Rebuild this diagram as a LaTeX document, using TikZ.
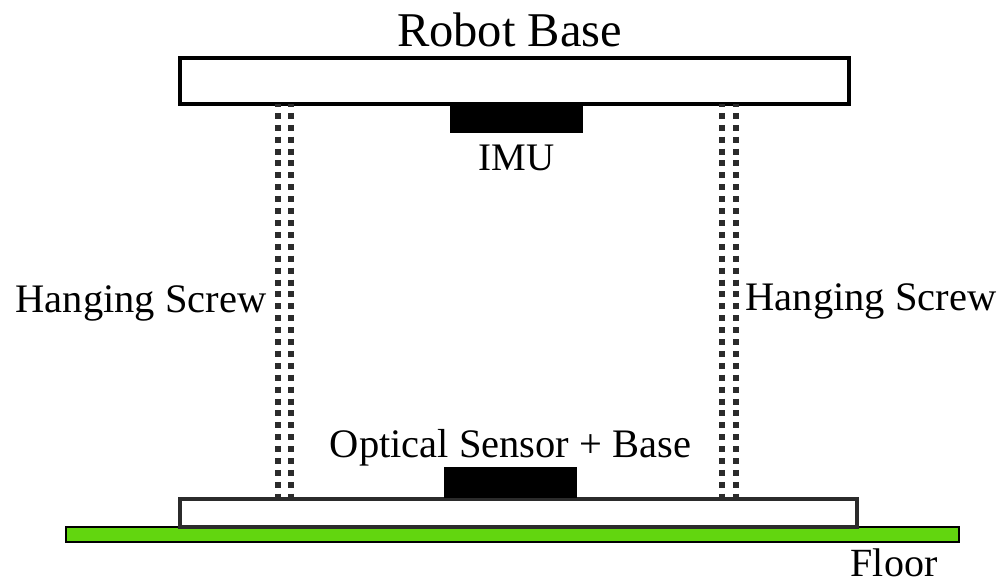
\documentclass[tikz,border=0pt]{standalone}
\usepackage{fontspec}
\setmainfont{Liberation Serif}
\definecolor{floorgreen}{HTML}{62D60F}
\definecolor{platedark}{HTML}{2B2B2B}
\tikzset{
  plate/.style={draw=#1,fill=white,line width=3.5pt,inner sep=0pt,outer sep=0pt},
  solidblock/.style={draw=none,fill=black,inner sep=0pt,outer sep=0pt},
  floorbar/.style={draw=black,fill=floorgreen,line width=2pt,inner sep=0pt,outer sep=0pt},
  screw/.style={draw=platedark,line width=6pt,dash pattern=on 6pt off 5.9pt,dash phase=3pt},
  lab/.style={inner sep=0pt,anchor=base,font=\fontsize{40.5pt}{44pt}\selectfont},
  labb/.style={inner sep=0pt,anchor=base,font=\fontsize{48.5pt}{52pt}\selectfont}
}
\begin{document}
\begin{tikzpicture}[x=1pt,y=-1pt]
\useasboundingbox (0,0) rectangle (1006,580);
\node[floorbar,minimum width=893pt,minimum height=15pt] (floor) at (512.5,534.5) {};
\node[plate=black,minimum width=669pt,minimum height=46pt] (base) at (514.5,81) {};
\node[plate=platedark,minimum width=677pt,minimum height=28pt] (lower) at (518.5,513) {};
\node[solidblock,minimum width=133pt,minimum height=29pt] (imu) at (516.5,118.5) {};
\node[solidblock,minimum width=133pt,minimum height=31pt] (sensor) at (510.5,482.5) {};
\coordinate (ltA) at ([xshift=-236.5pt]base.south);
\coordinate (ltB) at ([xshift=-223.5pt]base.south);
\coordinate (rtA) at ([xshift=207.5pt]base.south);
\coordinate (rtB) at ([xshift=221.5pt]base.south);
\coordinate (lbA) at ([xshift=-240.5pt]lower.north);
\coordinate (lbB) at ([xshift=-227.5pt]lower.north);
\coordinate (rbA) at ([xshift=203.5pt]lower.north);
\coordinate (rbB) at ([xshift=217.5pt]lower.north);
\draw[screw] (ltA) -- (lbA);
\draw[screw] (ltB) -- (lbB);
\draw[screw] (rtA) -- (rbA);
\draw[screw] (rtB) -- (rbB);
\node[labb] (tbase) at (509.5,47) {Robot Base};
\node[lab,font=\fontsize{39pt}{42pt}\selectfont] (timu) at (516.5,170.5) {IMU};
\node[lab] (topt) at (510.5,457) {Optical Sensor + Base};
\node[lab] (tl) at (141,312) {Hanging Screw};
\node[lab] (tr) at (871,310) {Hanging Screw};
\node[lab,font=\fontsize{40pt}{44pt}\selectfont] (tfloor) at (894,576) {Floor};
\end{tikzpicture}
\end{document}
